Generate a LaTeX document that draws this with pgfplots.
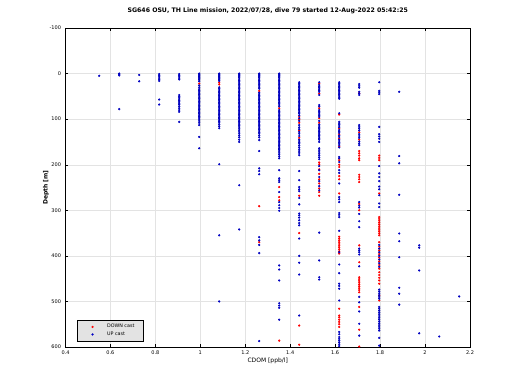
\documentclass[border=0pt]{standalone}
\usepackage{fontspec}
\setmainfont{DejaVu Sans}
\usepackage{pgfplots}
\pgfplotsset{compat=1.18}
\begin{document}
\begin{tikzpicture}
\path[use as bounding box] (0,0) rectangle (520pt,390pt);
\begin{axis}[
  at={(65.5pt,43pt)}, anchor=south west,
  scale only axis, width=404.5pt, height=319pt,
  xmin=0.4, xmax=2.2, ymin=-100, ymax=600,
  y dir=reverse,
  xtick={0.4,0.6,0.8,1,1.2,1.4,1.6,1.8,2,2.2},
  ytick={-100,0,100,200,300,400,500,600},
  xticklabels={0.4,0.6,0.8,1,1.2,1.4,1.6,1.8,2,2.2},
  yticklabels={-100,0,100,200,300,400,500,600},
  tick align=inside, major tick length=3pt,
  tick style={black, line width=0.4pt},
  axis line style={line width=0.5pt},
  grid=major, grid style={gray!22, line width=0.4pt},
  ticklabel style={font=\fontsize{5}{6}\selectfont},
  /pgf/number format/assume math mode=true,
  xticklabel style={yshift=-0.5pt},
  yticklabel style={xshift=-1pt},
  title={\textbf{SG646 OSU, TH Line mission, 2022/07/28, dive 79 started 12-Aug-2022 05:42:25}},
  title style={font=\fontsize{6.2}{7}\selectfont, at={(0.5,1)}, anchor=south, yshift=4.5pt},
  xlabel={CDOM [ppb/l]},
  xlabel style={font=\fontsize{6}{7}\selectfont, yshift=4pt},
  ylabel={Depth [m]},
  ylabel style={font=\fontsize{6}{7}\selectfont\bfseries, yshift=-6pt},
  legend style={at={(0.028,0.019)}, anchor=south west, font=\fontsize{4.8}{5.5}\selectfont,
    fill=gray!22, draw=black, line width=0.4pt, inner xsep=7pt, inner ysep=1.8pt, row sep=-1.5pt},
  legend cell align=left,
  legend image code/.code={\path[draw=none,fill=none] (0cm,0cm) -- (0.6cm,0cm);
    \draw[mark repeat=2,mark phase=2,#1] plot coordinates {(0cm,0cm) (0.3cm,0cm) (0.6cm,0cm)};},
]
% DOWN cast (red)
\addplot[only marks, mark=*, mark size=0.9pt, color=red, mark options={fill=red, draw=red}] coordinates {
(0.995,22)
(1.084,20) (1.084,24)
(1.262,38) (1.262,291) (1.262,370)
(1.351,76) (1.351,249) (1.351,271) (1.351,278) (1.351,586)
(1.440,95) (1.440,101) (1.440,108) (1.440,125) (1.440,141) (1.440,268) (1.440,350) (1.440,553) (1.440,595)
(1.529,22) (1.529,44) (1.529,76) (1.529,98) (1.529,108) (1.529,195) (1.529,199) (1.529,210) (1.529,220) (1.529,232) (1.529,241) (1.529,252) (1.529,260) (1.529,268)
(1.618,90) (1.618,121) (1.618,133) (1.618,142) (1.618,160) (1.618,190) (1.618,200) (1.618,205) (1.618,225) (1.618,232) (1.618,263)
(1.618,358) (1.618,362) (1.618,366) (1.618,370) (1.618,374) (1.618,378) (1.618,382) (1.618,386) (1.618,390) (1.618,395)
(1.618,516) (1.618,531) (1.618,535) (1.618,540) (1.618,545) (1.618,550) (1.618,556)
(1.707,43) (1.707,129) (1.707,145) (1.707,170) (1.707,175) (1.707,180) (1.707,186) (1.707,190) (1.707,222) (1.707,227) (1.707,232) (1.707,238)
(1.707,286) (1.707,300) (1.707,377) (1.707,414) (1.707,447) (1.707,451) (1.707,455) (1.707,459) (1.707,463) (1.707,467) (1.707,471) (1.707,475) (1.707,480)
(1.707,512) (1.707,562) (1.707,599)
(1.796,180) (1.796,185) (1.796,190) (1.796,263) (1.796,315) (1.796,319) (1.796,323) (1.796,327) (1.796,331) (1.796,335) (1.796,339) (1.796,343) (1.796,347) (1.796,351) (1.796,355)
(1.796,370) (1.796,380) (1.796,388) (1.796,396) (1.796,404) (1.796,412) (1.796,420) (1.796,428) (1.796,436) (1.796,442) (1.796,448) (1.796,454) (1.796,461) (1.796,487) (1.796,498)
};
\addlegendentry{\hspace{4pt}DOWN cast}
% UP cast (blue)
\addplot[only marks, mark=*, mark size=0.9pt, color=blue!80!black, mark options={fill=blue, draw=blue!70!black}] coordinates {
(0.550,5)
(0.639,0) (0.639,2) (0.639,4) (0.639,78)
(0.728,3) (0.728,17)
(0.817,1) (0.817,4) (0.817,7) (0.817,10) (0.817,13) (0.817,16) (0.817,57) (0.817,68)
(0.906,1) (0.906,4) (0.906,7) (0.906,10) (0.906,13) (0.906,47) (0.906,50) (0.906,53) (0.906,56) (0.906,59) (0.906,62) (0.906,65) (0.906,68) (0.906,72) (0.906,76) (0.906,80) (0.906,84) (0.906,106)
(0.995,0) (0.995,2) (0.995,4) (0.995,6) (0.995,8) (0.995,10) (0.995,12) (0.995,14) (0.995,17) (0.995,26) (0.995,30) (0.995,34) (0.995,37) (0.995,40) (0.995,43) (0.995,46) (0.995,49) (0.995,52) (0.995,55) (0.995,58) (0.995,61) (0.995,64) (0.995,67) (0.995,70) (0.995,73) (0.995,76) (0.995,79) (0.995,82) (0.995,85) (0.995,88) (0.995,91) (0.995,94) (0.995,97) (0.995,100) (0.995,104) (0.995,108) (0.995,113) (0.995,139) (0.995,164)
(1.084,0) (1.084,2) (1.084,4) (1.084,6) (1.084,8) (1.084,10) (1.084,12) (1.084,14) (1.084,16) (1.084,30) (1.084,33) (1.084,36) (1.084,39) (1.084,42) (1.084,45) (1.084,48) (1.084,51) (1.084,54) (1.084,57) (1.084,60) (1.084,63) (1.084,66) (1.084,69) (1.084,72) (1.084,75) (1.084,78) (1.084,81) (1.084,84) (1.084,87) (1.084,90) (1.084,93) (1.084,96) (1.084,99) (1.084,102) (1.084,105) (1.084,108) (1.084,112) (1.084,116) (1.084,120) (1.084,199) (1.084,355) (1.084,500)
(1.173,0) (1.173,2) (1.173,4) (1.173,6) (1.173,9) (1.173,12) (1.173,15) (1.173,18) (1.173,21) (1.173,24) (1.173,27) (1.173,30) (1.173,33) (1.173,36) (1.173,39) (1.173,42) (1.173,45) (1.173,48) (1.173,51) (1.173,54) (1.173,57) (1.173,60) (1.173,63) (1.173,66) (1.173,69) (1.173,72) (1.173,75) (1.173,78) (1.173,81) (1.173,84) (1.173,87) (1.173,90) (1.173,93) (1.173,96) (1.173,99) (1.173,102) (1.173,105) (1.173,108) (1.173,111) (1.173,114) (1.173,117) (1.173,120) (1.173,124) (1.173,128) (1.173,132) (1.173,136) (1.173,140) (1.173,145) (1.173,150) (1.173,245) (1.173,342)
(1.262,0) (1.262,2) (1.262,4) (1.262,6) (1.262,9) (1.262,12) (1.262,15) (1.262,18) (1.262,21) (1.262,24) (1.262,27) (1.262,30) (1.262,33) (1.262,42) (1.262,45) (1.262,48) (1.262,51) (1.262,54) (1.262,57) (1.262,60) (1.262,63) (1.262,66) (1.262,69) (1.262,72) (1.262,75) (1.262,78) (1.262,81) (1.262,84) (1.262,87) (1.262,90) (1.262,93) (1.262,96) (1.262,99) (1.262,102) (1.262,105) (1.262,108) (1.262,111) (1.262,114) (1.262,117) (1.262,120) (1.262,123) (1.262,126) (1.262,129) (1.262,132) (1.262,136) (1.262,140) (1.262,146) (1.262,170) (1.262,208) (1.262,214) (1.262,221) (1.262,359) (1.262,366) (1.262,376) (1.262,394) (1.262,587)
(1.351,0) (1.351,2) (1.351,4) (1.351,6) (1.351,9) (1.351,12) (1.351,15) (1.351,18) (1.351,21) (1.351,24) (1.351,27) (1.351,30) (1.351,33) (1.351,36) (1.351,39) (1.351,42) (1.351,45) (1.351,48) (1.351,51) (1.351,54) (1.351,57) (1.351,60) (1.351,63) (1.351,66) (1.351,69) (1.351,72) (1.351,80) (1.351,83) (1.351,86) (1.351,89) (1.351,92) (1.351,95) (1.351,98) (1.351,101) (1.351,104) (1.351,107) (1.351,110) (1.351,113) (1.351,116) (1.351,119) (1.351,122) (1.351,125) (1.351,128) (1.351,131) (1.351,134) (1.351,137) (1.351,140) (1.351,143) (1.351,146) (1.351,149) (1.351,152) (1.351,155) (1.351,158) (1.351,161) (1.351,164) (1.351,167) (1.351,170) (1.351,174) (1.351,178) (1.351,182) (1.351,186)
(1.351,212) (1.351,230) (1.351,234) (1.351,238) (1.351,260) (1.351,282) (1.351,289) (1.351,295) (1.351,301) (1.351,421) (1.351,430) (1.351,454) (1.351,504) (1.351,509) (1.351,514) (1.351,540)
(1.440,19) (1.440,22) (1.440,25) (1.440,28) (1.440,31) (1.440,34) (1.440,37) (1.440,40) (1.440,43) (1.440,46) (1.440,49) (1.440,52) (1.440,55) (1.440,58) (1.440,61) (1.440,64) (1.440,67) (1.440,70) (1.440,73) (1.440,76) (1.440,79) (1.440,82) (1.440,85) (1.440,88) (1.440,92) (1.440,98) (1.440,104) (1.440,113) (1.440,118) (1.440,122) (1.440,128) (1.440,132) (1.440,137) (1.440,145) (1.440,148) (1.440,151) (1.440,154) (1.440,158) (1.440,162) (1.440,166) (1.440,170) (1.440,174) (1.440,179)
(1.440,214) (1.440,234) (1.440,249) (1.440,254) (1.440,258) (1.440,273) (1.440,287) (1.440,307) (1.440,311) (1.440,316) (1.440,322) (1.440,328) (1.440,333) (1.440,362) (1.440,400) (1.440,415) (1.440,441) (1.440,531)
(1.529,19) (1.529,25) (1.529,28) (1.529,31) (1.529,34) (1.529,37) (1.529,40) (1.529,47) (1.529,69) (1.529,72) (1.529,80) (1.529,83) (1.529,86) (1.529,89) (1.529,92) (1.529,95) (1.529,104) (1.529,112) (1.529,115) (1.529,118) (1.529,121) (1.529,124) (1.529,127) (1.529,130) (1.529,133) (1.529,136) (1.529,139) (1.529,142) (1.529,145) (1.529,150) (1.529,164) (1.529,168) (1.529,172) (1.529,176) (1.529,180) (1.529,184) (1.529,188) (1.529,203) (1.529,212) (1.529,227) (1.529,236) (1.529,247) (1.529,256) (1.529,349) (1.529,410) (1.529,447) (1.529,452)
(1.618,19) (1.618,22) (1.618,25) (1.618,28) (1.618,31) (1.618,34) (1.618,37) (1.618,40) (1.618,43) (1.618,46) (1.618,49) (1.618,52) (1.618,55) (1.618,87) (1.618,106) (1.618,109) (1.618,112) (1.618,115) (1.618,118) (1.618,124) (1.618,127) (1.618,130) (1.618,136) (1.618,139) (1.618,145) (1.618,148) (1.618,151) (1.618,154) (1.618,157) (1.618,162) (1.618,183) (1.618,186) (1.618,194) (1.618,212) (1.618,218) (1.618,241) (1.618,271) (1.618,276) (1.618,282) (1.618,306) (1.618,310) (1.618,315) (1.618,345) (1.618,392) (1.618,419) (1.618,438) (1.618,461) (1.618,466) (1.618,472) (1.618,498) (1.618,567) (1.618,572) (1.618,578) (1.618,582) (1.618,586) (1.618,590) (1.618,594) (1.618,598)
(1.707,23) (1.707,27) (1.707,31) (1.707,40) (1.707,44) (1.707,47) (1.707,113) (1.707,117) (1.707,121) (1.707,125) (1.707,133) (1.707,137) (1.707,141) (1.707,149) (1.707,153) (1.707,157) (1.707,282) (1.707,290) (1.707,294) (1.707,308) (1.707,324) (1.707,337) (1.707,384) (1.707,388) (1.707,392) (1.707,397) (1.707,423) (1.707,490) (1.707,502) (1.707,522) (1.707,549) (1.707,575)
(1.796,19) (1.796,38) (1.796,41) (1.796,45) (1.796,117) (1.796,133) (1.796,138) (1.796,143) (1.796,150) (1.796,203) (1.796,219) (1.796,227) (1.796,236) (1.796,248) (1.796,254) (1.796,267) (1.796,285) (1.796,293) (1.796,376) (1.796,384) (1.796,392) (1.796,400) (1.796,408) (1.796,416) (1.796,424) (1.796,474) (1.796,478) (1.796,482) (1.796,486) (1.796,490) (1.796,494) (1.796,512) (1.796,516) (1.796,520) (1.796,524) (1.796,528) (1.796,532) (1.796,536) (1.796,540) (1.796,544) (1.796,548) (1.796,552) (1.796,556) (1.796,560) (1.796,564) (1.796,580) (1.796,597)
(1.885,40) (1.885,181) (1.885,197) (1.885,266) (1.885,351) (1.885,368) (1.885,403) (1.885,470) (1.885,483) (1.885,507)
(1.974,377) (1.974,382) (1.974,432) (1.974,570)
(2.063,577)
(2.152,489)
};
\addlegendentry{\hspace{4pt}UP cast}
\end{axis}
\end{tikzpicture}
\end{document}
